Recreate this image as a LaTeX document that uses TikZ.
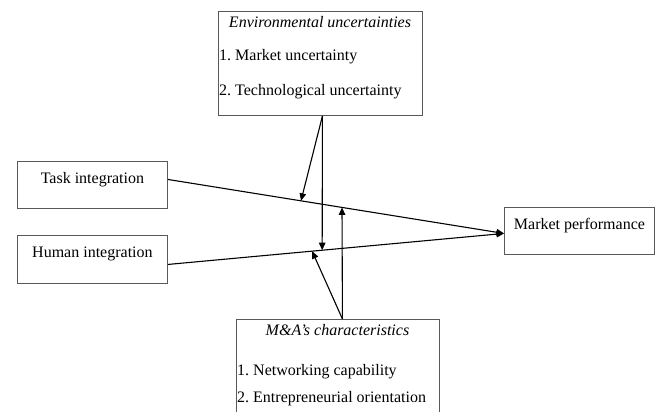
\documentclass[tikz,border=0pt]{standalone}
\usepackage{fontspec}
\setmainfont{Liberation Serif}
\usetikzlibrary{arrows.meta}
\begin{document}
\begin{tikzpicture}[x=1pt,y=-1pt,
  box/.style={draw=black!65, line width=0.9pt, rectangle, inner sep=0pt, anchor=north west},
  lbl/.style={inner sep=0pt, font=\fontsize{16}{19}\selectfont},
  arr/.style={-{Triangle[length=7.5pt,width=6.5pt]}, line width=1.1pt}]
\useasboundingbox (0,0) rectangle (657,412);
\clip (0,0) rectangle (657,412);
% boxes
\node[box, minimum width=150pt, minimum height=47pt] (task) at (17,161) {};
\node[box, minimum width=150pt, minimum height=48pt] (human) at (17,235) {};
\node[box, minimum width=150pt, minimum height=47pt] (mkt) at (504,207) {};
\node[box, minimum width=204pt, minimum height=104pt] (env) at (218,11) {};
\node[box, minimum width=203pt, minimum height=110pt] (ma) at (236,319) {};
% labels
\node[lbl] (taskt) at ([yshift=5.5pt]task.center) {Task integration};
\node[lbl] (humant) at ([yshift=6pt]human.center) {Human integration};
\node[lbl] (mktt) at ([yshift=5.5pt]mkt.center) {Market performance};
\node[lbl, font=\fontsize{16}{19}\selectfont\itshape] (envt) at (320,22) {Environmental uncertainties};
\node[lbl, anchor=west] (env1) at (219,57) {1.\ Market uncertainty};
\node[lbl, anchor=west] (env2) at (219,92) {2.\ Technological uncertainty};
\node[lbl, font=\fontsize{16}{19}\selectfont\itshape] (mat) at (337.5,330) {M\&A’s characteristics};
\node[lbl, anchor=west] (ma1) at (237,372) {1.\ Networking capability};
\node[lbl, anchor=west] (ma2) at (237,399) {2.\ Entrepreneurial orientation};
% main paths
\draw[arr] ([yshift=5.5pt]task.east) -- ([yshift=-2.5pt]mkt.west)
  coordinate[pos=0.396] (tA) coordinate[pos=0.518] (tB);
\draw[arr] ([yshift=-5pt]human.east) -- ([yshift=-2.5pt]mkt.west)
  coordinate[pos=0.459] (hA) coordinate[pos=0.429] (hB);
% moderators
\draw[arr] ([xshift=2pt]env.south) -- (tA);
\draw[arr] ([xshift=2pt]env.south) -- (hA);
\draw[arr] ([xshift=4.5pt]ma.north) -- (tB);
\draw[arr] ([xshift=4.5pt]ma.north) -- (hB);
\end{tikzpicture}
\end{document}
